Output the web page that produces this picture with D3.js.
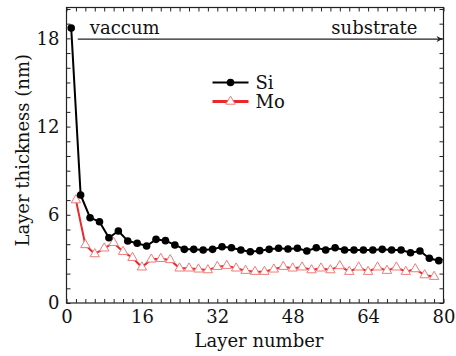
<!DOCTYPE html>
<html>
<head>
<meta charset="utf-8">
<script src="https://cdn.jsdelivr.net/npm/d3@7"></script>
<style>
  body { margin: 0; background: #fff; }
</style>
</head>
<body>
<div id="chart"></div>
<script>
// Layer thickness per layer
const siLayers = d3.range(1, 80, 2);   // 1,3,...,79
const siValues = [18.7, 7.35, 5.80, 5.53, 4.44, 4.90, 4.22, 4.06, 3.88, 4.33,
                  4.24, 3.95, 3.65, 3.65, 3.61, 3.65, 3.83, 3.76, 3.61, 3.49,
                  3.56, 3.65, 3.72, 3.67, 3.72, 3.54, 3.76, 3.61, 3.76, 3.61,
                  3.61, 3.61, 3.61, 3.65, 3.61, 3.61, 3.42, 3.54, 3.04, 2.88];
const moLayers = d3.range(2, 79, 2);   // 2,4,...,78
const moValues = [7.0, 3.95, 3.33, 3.72, 4.10, 3.49, 3.08, 2.43, 2.97, 3.01,
                  2.93, 2.36, 2.36, 2.29, 2.24, 2.47, 2.54, 2.36, 2.20, 2.13,
                  2.13, 2.29, 2.47, 2.36, 2.43, 2.24, 2.36, 2.24, 2.52, 2.13,
                  2.43, 2.13, 2.43, 2.20, 2.43, 2.13, 2.31, 1.90, 1.79];
const xTickLabels = [0, 16, 32, 48, 64, 80];
const yTickLabels = [0, 6, 12, 18];

const W = 456, H = 356;
const margin = {left: 66.5, top: 7.5, right: 12.5, bottom: 53};
const iw = W - margin.left - margin.right;
const ih = H - margin.top - margin.bottom;
const FONT = "'DejaVu Serif', 'Liberation Serif', serif";

const svg = d3.select("#chart").append("svg")
    .attr("width", W).attr("height", H)
    .attr("font-family", FONT);

const g = svg.append("g")
    .attr("transform", `translate(${margin.left},${margin.top})`);

const x = d3.scaleLinear().domain([0, 80]).range([0, iw]);
const y = d3.scaleLinear().domain([0, 20.1]).range([ih, 0]);

// axes, ticks pointing inward on all sides
function tickAxis(axis, transform, ticks, labels) {
    const a = g.append("g").attr("transform", transform)
        .call(axis.tickValues(ticks).tickSizeInner(-4).tickSizeOuter(0)
            .tickPadding(7)
            .tickFormat(d => labels && labels.includes(d) ? d : ""));
    a.attr("font-family", FONT);
    a.select(".domain").remove();
    a.selectAll("line").attr("stroke", "#222").attr("stroke-width", 1);
    a.selectAll("text").attr("font-size", 18).attr("fill", "#111");
    return a;
}
const xTicks = d3.range(0, 81, 2);
const yTicks = d3.range(0, 21, 1);
tickAxis(d3.axisBottom(x), `translate(0,${ih})`, xTicks, xTickLabels);
tickAxis(d3.axisTop(x), "translate(0,0)", xTicks, null);
tickAxis(d3.axisLeft(y), "translate(0,0)", yTicks, yTickLabels);
tickAxis(d3.axisRight(y), `translate(${iw},0)`, yTicks, null);

g.append("rect")
    .attr("width", iw).attr("height", ih)
    .attr("fill", "none").attr("stroke", "#222").attr("stroke-width", 1.2);

// axis titles
g.append("text")
    .attr("x", iw / 2 + 4).attr("y", ih + 44)
    .attr("text-anchor", "middle").attr("font-size", 18).attr("fill", "#111")
    .text("Layer number");
g.append("text")
    .attr("transform", `translate(${-38},${ih / 2 - 5}) rotate(-90)`)
    .attr("text-anchor", "middle").attr("font-size", 18).attr("fill", "#111")
    .text("Layer thickness (nm)");

// direction arrow
svg.append("defs").append("marker")
    .attr("id", "arrow").attr("viewBox", "0 0 10 10")
    .attr("refX", 10).attr("refY", 5)
    .attr("markerWidth", 18).attr("markerHeight", 6)
    .attr("markerUnits", "userSpaceOnUse")
    .attr("orient", "auto")
    .append("path").attr("d", "M0,0 L10,5 L0,10 L3,5 Z").attr("fill", "#222");
g.append("line")
    .attr("x1", x(2.4)).attr("x2", x(80) - 1)
    .attr("y1", y(17.95)).attr("y2", y(17.95))
    .attr("stroke", "#222").attr("stroke-width", 1.2)
    .attr("marker-end", "url(#arrow)");
g.append("text")
    .attr("x", x(4.95)).attr("y", y(18.3))
    .attr("font-size", 18).attr("fill", "#111").text("vaccum");
g.append("text")
    .attr("x", x(56.2)).attr("y", y(18.3))
    .attr("font-size", 18).attr("fill", "#111").text("substrate");

// series
const si = siLayers.map((l, i) => ({l, v: siValues[i]}));
const mo = moLayers.map((l, i) => ({l, v: moValues[i]}));
const line = d3.line().x(d => x(d.l)).y(d => y(d.v));

g.append("path").datum(mo)
    .attr("d", line).attr("fill", "none")
    .attr("stroke", "#e8282b").attr("stroke-width", 2);
g.append("path").datum(si)
    .attr("d", line).attr("fill", "none")
    .attr("stroke", "#000").attr("stroke-width", 2);

const tri = d3.symbol().type(d3.symbolTriangle).size(38);
g.selectAll(".mo").data(mo).join("path")
    .attr("class", "mo")
    .attr("transform", d => `translate(${x(d.l)},${y(d.v)})`)
    .attr("d", tri)
    .attr("fill", "#fff").attr("stroke", "#f07a7a").attr("stroke-width", 1);
g.selectAll(".si").data(si).join("circle")
    .attr("class", "si")
    .attr("cx", d => x(d.l)).attr("cy", d => y(d.v))
    .attr("r", 3.8).attr("fill", "#000");

// legend
const legend = g.append("g").attr("transform", `translate(${212.5 - margin.left},0)`);
const items = [
    {name: "Si", color: "#000", y: 82.5},
    {name: "Mo", color: "#e8282b", y: 101.5}
];
items.forEach(it => {
    const yy = it.y - margin.top;
    legend.append("line")
        .attr("x1", 0).attr("x2", 36).attr("y1", yy).attr("y2", yy)
        .attr("stroke", it.color).attr("stroke-width", it.name === "Mo" ? 3 : 2.2);
    if (it.name === "Si") {
        legend.append("circle").attr("cx", 18).attr("cy", yy).attr("r", 3.8).attr("fill", "#000");
    } else {
        legend.append("path").attr("transform", `translate(18,${yy})`).attr("d", tri)
            .attr("fill", "#fff").attr("stroke", "#f07a7a");
    }
    legend.append("text")
        .attr("x", 43).attr("y", yy + 6)
        .attr("font-size", 18).attr("fill", "#111").text(it.name);
});
</script>
</body>
</html>
